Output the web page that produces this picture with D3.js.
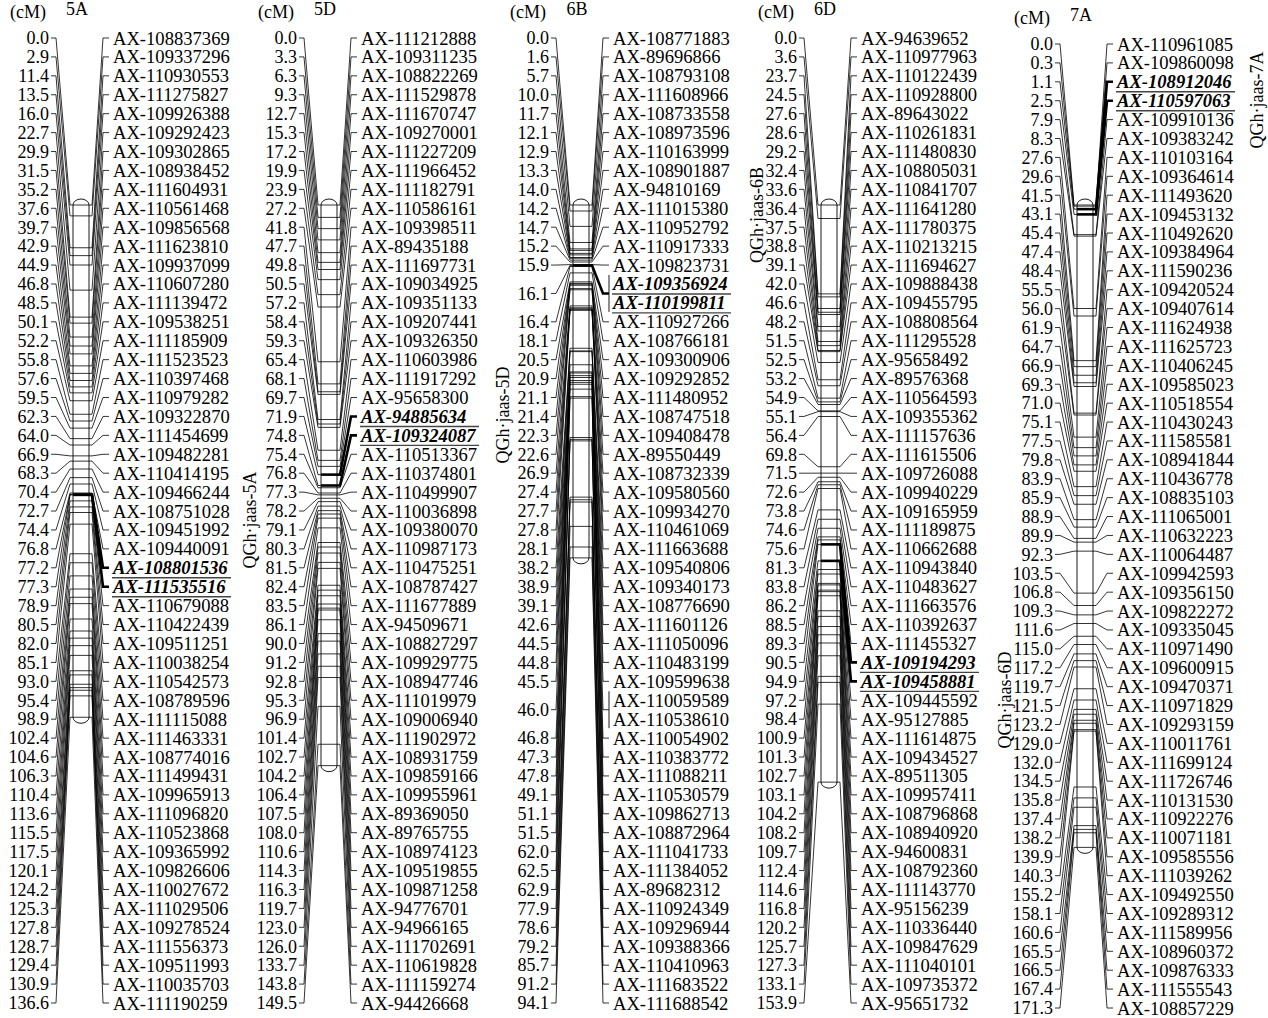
<!DOCTYPE html>
<html>
<head>
<meta charset="utf-8">
<script src="https://cdn.jsdelivr.net/npm/d3@7"></script>
<style>
body { margin: 0; background: #fff; }
text { font-family: "Liberation Serif", "Times New Roman", serif; fill: #000; }
</style>
</head>
<body>
<svg id="chart" width="1268" height="1018"></svg>
<script>
// ---- donnees : positions (cM) et noms des marqueurs ----
var chromNames = ["5A", "5D", "6B", "6D", "7A"];
var qtlLabels = ["QGh·jaas-5A", "QGh·jaas-5D", "QGh·jaas-6B", "QGh·jaas-6D", "QGh·jaas-7A"];

var pos5A = [0.0, 2.9, 11.4, 13.5, 16.0, 22.7, 29.9, 31.5, 35.2, 37.6, 39.7, 42.9, 44.9, 46.8, 48.5, 50.1, 52.2, 55.8, 57.6, 59.5, 62.3, 64.0, 66.9, 68.3, 70.4, 72.7, 74.4, 76.8, 77.2, 77.3, 78.9, 80.5, 82.0, 85.1, 93.0, 95.4, 98.9, 102.4, 104.6, 106.3, 110.4, 113.6, 115.5, 117.5, 120.1, 124.2, 125.3, 127.8, 128.7, 129.4, 130.9, 136.6];
var markers5A = ["AX-108837369", "AX-109337296", "AX-110930553", "AX-111275827", "AX-109926388", "AX-109292423", "AX-109302865", "AX-108938452", "AX-111604931", "AX-110561468", "AX-109856568", "AX-111623810", "AX-109937099", "AX-110607280", "AX-111139472", "AX-109538251", "AX-111185909", "AX-111523523", "AX-110397468", "AX-110979282", "AX-109322870", "AX-111454699", "AX-109482281", "AX-110414195", "AX-109466244", "AX-108751028", "AX-109451992", "AX-109440091", "AX-108801536", "AX-111535516", "AX-110679088", "AX-110422439", "AX-109511251", "AX-110038254", "AX-110542573", "AX-108789596", "AX-111115088", "AX-111463331", "AX-108774016", "AX-111499431", "AX-109965913", "AX-111096820", "AX-110523868", "AX-109365992", "AX-109826606", "AX-110027672", "AX-111029506", "AX-109278524", "AX-111556373", "AX-109511993", "AX-110035703", "AX-111190259"];
var qtl5A = ["AX-108801536", "AX-111535516"];

var pos5D = [0.0, 3.3, 6.3, 9.3, 12.7, 15.3, 17.2, 19.9, 23.9, 27.2, 41.8, 47.7, 49.8, 50.5, 57.2, 58.4, 59.3, 65.4, 68.1, 69.7, 71.9, 74.8, 75.4, 76.8, 77.3, 78.2, 79.1, 80.3, 81.5, 82.4, 83.5, 86.1, 90.0, 91.2, 92.8, 95.3, 96.9, 101.4, 102.7, 104.2, 106.4, 107.5, 108.0, 110.6, 114.3, 116.3, 119.7, 123.0, 126.0, 133.7, 143.8, 149.5];
var markers5D = ["AX-111212888", "AX-109311235", "AX-108822269", "AX-111529878", "AX-111670747", "AX-109270001", "AX-111227209", "AX-111966452", "AX-111182791", "AX-110586161", "AX-109398511", "AX-89435188", "AX-111697731", "AX-109034925", "AX-109351133", "AX-109207441", "AX-109326350", "AX-110603986", "AX-111917292", "AX-95658300", "AX-94885634", "AX-109324087", "AX-110513367", "AX-110374801", "AX-110499907", "AX-110036898", "AX-109380070", "AX-110987173", "AX-110475251", "AX-108787427", "AX-111677889", "AX-94509671", "AX-108827297", "AX-109929775", "AX-108947746", "AX-111019979", "AX-109006940", "AX-111902972", "AX-108931759", "AX-109859166", "AX-109955961", "AX-89369050", "AX-89765755", "AX-108974123", "AX-109519855", "AX-109871258", "AX-94776701", "AX-94966165", "AX-111702691", "AX-110619828", "AX-111159274", "AX-94426668"];
var qtl5D = ["AX-94885634", "AX-109324087"];

var pos6B = [0.0, 1.6, 5.7, 10.0, 11.7, 12.1, 12.9, 13.3, 14.0, 14.2, 14.7, 15.2, 15.9, 16.1, 16.1, 16.4, 18.1, 20.5, 20.9, 21.1, 21.4, 22.3, 22.6, 26.9, 27.4, 27.7, 27.8, 28.1, 38.2, 38.9, 39.1, 42.6, 44.5, 44.8, 45.5, 46.0, 46.0, 46.8, 47.3, 47.8, 49.1, 51.1, 51.5, 62.0, 62.5, 62.9, 77.9, 78.6, 79.2, 85.7, 91.2, 94.1];
var markers6B = ["AX-108771883", "AX-89696866", "AX-108793108", "AX-111608966", "AX-108733558", "AX-108973596", "AX-110163999", "AX-108901887", "AX-94810169", "AX-111015380", "AX-110952792", "AX-110917333", "AX-109823731", "AX-109356924", "AX-110199811", "AX-110927266", "AX-108766181", "AX-109300906", "AX-109292852", "AX-111480952", "AX-108747518", "AX-109408478", "AX-89550449", "AX-108732339", "AX-109580560", "AX-109934270", "AX-110461069", "AX-111663688", "AX-109540806", "AX-109340173", "AX-108776690", "AX-111601126", "AX-111050096", "AX-110483199", "AX-109599638", "AX-110059589", "AX-110538610", "AX-110054902", "AX-110383772", "AX-111088211", "AX-110530579", "AX-109862713", "AX-108872964", "AX-111041733", "AX-111384052", "AX-89682312", "AX-110924349", "AX-109296944", "AX-109388366", "AX-110410963", "AX-111683522", "AX-111688542"];
var qtl6B = ["AX-109356924", "AX-110199811"];

var pos6D = [0.0, 3.6, 23.7, 24.5, 27.6, 28.6, 29.2, 32.4, 33.6, 36.4, 37.5, 38.8, 39.1, 42.0, 46.6, 48.2, 51.5, 52.5, 53.2, 54.9, 55.1, 56.4, 69.8, 71.5, 72.6, 73.8, 74.6, 75.6, 81.3, 83.8, 86.2, 88.5, 89.3, 90.5, 94.9, 97.2, 98.4, 100.9, 101.3, 102.7, 103.1, 104.2, 108.2, 109.7, 112.4, 114.6, 116.8, 120.2, 125.7, 127.3, 133.1, 153.9];
var markers6D = ["AX-94639652", "AX-110977963", "AX-110122439", "AX-110928800", "AX-89643022", "AX-110261831", "AX-111480830", "AX-108805031", "AX-110841707", "AX-111641280", "AX-111780375", "AX-110213215", "AX-111694627", "AX-109888438", "AX-109455795", "AX-108808564", "AX-111295528", "AX-95658492", "AX-89576368", "AX-110564593", "AX-109355362", "AX-111157636", "AX-111615506", "AX-109726088", "AX-109940229", "AX-109165959", "AX-111189875", "AX-110662688", "AX-110943840", "AX-110483627", "AX-111663576", "AX-110392637", "AX-111455327", "AX-109194293", "AX-109458881", "AX-109445592", "AX-95127885", "AX-111614875", "AX-109434527", "AX-89511305", "AX-109957411", "AX-108796868", "AX-108940920", "AX-94600831", "AX-108792360", "AX-111143770", "AX-95156239", "AX-110336440", "AX-109847629", "AX-111040101", "AX-109735372", "AX-95651732"];
var qtl6D = ["AX-109194293", "AX-109458881"];

var pos7A = [0.0, 0.3, 1.1, 2.5, 7.9, 8.3, 27.6, 29.6, 41.5, 43.1, 45.4, 47.4, 48.4, 55.5, 56.0, 61.9, 64.7, 66.9, 69.3, 71.0, 75.1, 77.5, 79.8, 83.9, 85.9, 88.9, 89.9, 92.3, 103.5, 106.8, 109.3, 111.6, 115.0, 117.2, 119.7, 121.5, 123.2, 129.0, 132.0, 134.5, 135.8, 137.4, 138.2, 139.9, 140.3, 155.2, 158.1, 160.6, 165.5, 166.5, 167.4, 171.3];
var markers7A = ["AX-110961085", "AX-109860098", "AX-108912046", "AX-110597063", "AX-109910136", "AX-109383242", "AX-110103164", "AX-109364614", "AX-111493620", "AX-109453132", "AX-110492620", "AX-109384964", "AX-111590236", "AX-109420524", "AX-109407614", "AX-111624938", "AX-111625723", "AX-110406245", "AX-109585023", "AX-110518554", "AX-110430243", "AX-111585581", "AX-108941844", "AX-110436778", "AX-108835103", "AX-111065001", "AX-110632223", "AX-110064487", "AX-109942593", "AX-109356150", "AX-109822272", "AX-109335045", "AX-110971490", "AX-109600915", "AX-109470371", "AX-110971829", "AX-109293159", "AX-110011761", "AX-111699124", "AX-111726746", "AX-110131530", "AX-110922276", "AX-110071181", "AX-109585556", "AX-111039262", "AX-109492550", "AX-109289312", "AX-111589956", "AX-108960372", "AX-109876333", "AX-111555543", "AX-108857229"];
var qtl7A = ["AX-108912046", "AX-110597063"];

// ---- mise en page ----
var colX = [0, 248, 500, 748, 1004];
var rowTop = [38, 38, 38, 38, 44], rowBottom = [1003, 1003, 1003, 1003, 1008];
var qtlLabelXY = [[250, 520], [503, 415], [757, 215], [1005, 700], [1257, 100]];
var fontSize = 18, nameSize = 18.6;
var labelRight = 49, barL = 73, barR = 89, nameX = 113;

var svg = d3.select("#chart");

// echelle commune en cM pour toutes les barres
var yBar = d3.scaleLinear().domain([0, 171.3]).range([205, 205 + 171.3 * 3.75]);

var chroms = [
	{name: chromNames[0], pos: pos5A, markers: markers5A, qtl: qtl5A},
	{name: chromNames[1], pos: pos5D, markers: markers5D, qtl: qtl5D},
	{name: chromNames[2], pos: pos6B, markers: markers6B, qtl: qtl6B},
	{name: chromNames[3], pos: pos6D, markers: markers6D, qtl: qtl6D},
	{name: chromNames[4], pos: pos7A, markers: markers7A, qtl: qtl7A}
];

chroms.forEach(function(c, ci){
	var g = svg.append("g").attr("transform", "translate(" + colX[ci] + ",0)");
	var yRow = d3.scaleLinear().domain([0, c.pos.length - 1]).range([rowTop[ci], rowBottom[ci]]);

	//regroupe les marqueurs a la meme position
	var groups = [];
	c.pos.forEach(function(p, i){
		var last = groups[groups.length - 1];
		if(last && last.pos === p){ last.rows.push(i); }
		else { groups.push({pos: p, rows: [i]}); }
	});
	groups.forEach(function(gr){
		gr.y = d3.mean(gr.rows, function(i){ return yRow(i); });
		gr.qtl = gr.rows.some(function(i){ return c.qtl.indexOf(c.markers[i]) >= 0; });
	});

	// titres
	g.append("text").attr("x", labelRight - 3).attr("y", rowTop[ci] - 20)
		.attr("text-anchor", "end").attr("font-size", fontSize).text("(cM)");
	g.append("text").attr("x", barL + 4).attr("y", rowTop[ci] - 23)
		.attr("text-anchor", "middle").attr("font-size", fontSize).text(c.name);

	// lignes de liaison gauche
	g.selectAll(".lconn").data(groups).enter().append("path")
		.attr("fill", "none").attr("stroke", "#000").attr("stroke-width", 0.8)
		.attr("d", function(d){
			var ty = yBar(d.pos);
			return "M" + (labelRight + 2) + "," + d.y + "H" + (labelRight + 7) +
				"L" + (barL - 3) + "," + ty + "H" + barL;
		});

	// lignes de liaison droite
	g.selectAll(".rconn").data(groups).enter().append("path")
		.attr("fill", "none").attr("stroke", "#000")
		.attr("stroke-width", function(d){ return d.qtl ? 2.6 : 0.8; })
		.attr("d", function(d){
			var ty = yBar(d.pos);
			return "M" + barR + "," + ty + "H" + (barR + 3) +
				"L" + (nameX - 10) + "," + d.y + "H" + (nameX - 4);
		});

	// crochets pour les marqueurs cosegregeant
	g.selectAll(".bracket").data(groups.filter(function(d){ return d.rows.length > 1; }))
		.enter().append("line")
		.attr("stroke", "#000").attr("stroke-width", 0.9)
		.attr("x1", nameX - 4).attr("x2", nameX - 4)
		.attr("y1", function(d){ return yRow(d.rows[0]) - 9; })
		.attr("y2", function(d){ return yRow(d.rows[d.rows.length - 1]) + 9; });

	// barre du chromosome
	var y0 = yBar(0), y1 = yBar(d3.max(c.pos)), rx = (barR - barL) / 2;
	g.append("path")
		.attr("fill", "#fff").attr("stroke", "#000").attr("stroke-width", 0.9)
		.attr("d", "M" + barL + "," + y0 + "A" + rx + ",6 0 0 1 " + barR + "," + y0 +
			"L" + barR + "," + y1 + "A" + rx + ",6 0 0 1 " + barL + "," + y1 + "Z");

	g.selectAll(".tick").data(groups).enter().append("line")
		.attr("stroke", "#000")
		.attr("stroke-width", function(d){ return d.qtl ? 2.6 : 0.8; })
		.attr("x1", barL).attr("x2", barR)
		.attr("y1", function(d){ return yBar(d.pos); })
		.attr("y2", function(d){ return yBar(d.pos); });

	// positions en cM
	g.selectAll(".plab").data(groups).enter().append("text")
		.attr("x", labelRight).attr("y", function(d){ return d.y; })
		.attr("dy", "0.35em").attr("text-anchor", "end").attr("font-size", fontSize)
		.text(function(d){ return d.pos.toFixed(1); });

	// noms des marqueurs
	g.selectAll(".mlab").data(c.markers).enter().append("text")
		.attr("x", nameX).attr("y", function(d, i){ return yRow(i); })
		.attr("dy", "0.35em").attr("font-size", nameSize)
		.attr("font-weight", function(d){ return c.qtl.indexOf(d) >= 0 ? "bold" : null; })
		.attr("font-style", function(d){ return c.qtl.indexOf(d) >= 0 ? "italic" : null; })
		.text(function(d){ return d; });

	// soulignement des marqueurs du QTL
	g.selectAll(".uline").data(c.markers.filter(function(d){ return c.qtl.indexOf(d) >= 0; }))
		.enter().append("line")
		.attr("stroke", "#444").attr("stroke-width", 1.4)
		.attr("x1", nameX - 1).attr("x2", nameX + 118)
		.attr("y1", function(d){ return yRow(c.markers.indexOf(d)) + 10; })
		.attr("y2", function(d){ return yRow(c.markers.indexOf(d)) + 10; });

	// nom du QTL
	svg.append("text")
		.attr("transform", "translate(" + qtlLabelXY[ci][0] + "," + qtlLabelXY[ci][1] + ") rotate(-90)")
		.attr("text-anchor", "middle").attr("dy", "0.35em").attr("font-size", fontSize)
		.text(qtlLabels[ci]);
});
</script>
</body>
</html>
